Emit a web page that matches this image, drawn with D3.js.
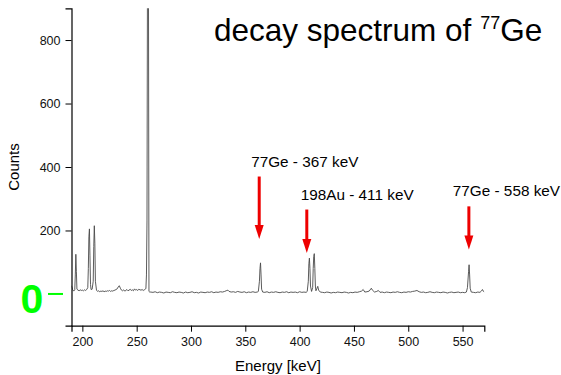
<!DOCTYPE html>
<html>
<head>
<meta charset="utf-8">
<script src="https://cdn.jsdelivr.net/npm/d3@7"></script>
<style>
  body { margin: 0; background: #fff; }
  svg { display: block; font-family: Arial, "Liberation Sans", sans-serif; }
</style>
</head>
<body>
<svg width="561" height="375"></svg>
<script>
// spectrum (energy in keV, counts)
var energies = [190,191,192,193,193.5,194,194.5,195,196,197,198,199,200,
  201,202,203,204,205,205.5,206,206.5,207,207.5,208,209,210,210.5,211,211.5,212,213,214,215,216,217,218,219,220,
  221,222,223,224,225,226,227,228,229,230,231,232,233,234,235,236,237,238,239,240,241,242,243,244,245,246,247,248,249,250,
  251,252,253,254,255,256,257,258,258.5,259,259.5,260,260.8,261.3,262,263,265,267,269,271,273,275,277,279,281,283,285,287,289,
  291,293,295,297,299,301,303,305,307,309,311,313,315,317,319,321,323,325,327,329,331,333,334,335,337,339,341,343,345,347,349,
  351,353,355,357,359,361,362,363,363.5,364,364.5,365,366,368,370,372,374,376,378,380,382,384,386,388,390,392,394,396,398,400,
  402,404,406,407,408,408.5,409,409.5,410,411,412,412.5,413,413.5,414,414.5,415,416,416.7,417.5,419,421,423,425,427,429,431,433,435,437,439,
  441,443,445,447,449,451,453,455,457,458.5,460,462,464,466,467,469,471,472.5,474,476,478,480,482,484,486,488,490,492,494,496,498,500,
  502,504,506,508,510,512,514,516,518,520,522,524,526,528,530,532,534,536,538,540,542,544,546,548,550,552,553.5,554.5,555.5,556,556.5,557,558,
  560,562,564,566,567.5,568.3,569,570];
var counts = [26,14,9,13,60,125,70,15,12,10,13,11,12,
  10,13,11,14,20,80,180,205,120,30,14,15,40,150,215,160,40,12,8,10,7,9,8,10,7,
  9,8,10,9,11,8,10,9,11,12,14,16,22,26,18,12,10,13,9,11,14,10,12,15,11,13,10,16,12,14,
  11,15,13,12,14,11,13,15,18,60,230,1100,1100,8,6,6,5,7,4,6,5,3,6,5,4,7,5,4,6,
  5,3,6,4,5,7,4,5,3,6,5,4,6,5,7,4,6,5,7,6,8,11,12,8,6,7,5,8,6,5,7,
  4,6,5,7,5,6,8,40,80,98,60,15,6,5,7,4,6,5,7,5,4,6,5,7,4,6,5,6,4,7,
  5,6,5,8,40,95,113,80,25,8,20,80,118,127,80,25,10,18,24,12,6,5,4,6,5,3,5,4,6,5,4,
  6,5,3,5,4,6,5,7,9,14,6,7,9,18,12,6,8,11,5,6,4,6,5,4,6,5,7,5,4,6,5,7,
  6,8,9,11,7,5,6,4,5,7,5,4,6,5,4,6,5,3,5,6,4,5,6,4,5,4,6,20,70,92,60,18,6,
  5,4,6,5,10,14,9,6];

var xTicks = [200,250,300,350,400,450,500,550];
var yTicks = [200,400,600,800];

// arrows: energy where it points, counts at tip and tail, label text
var arrowE = [362.8, 406.6, 555.8];
var arrowTip = [173, 129, 140];
var arrowTail = [370, 266, 276];
var arrowText = ["77Ge - 367 keV", "198Au - 411 keV", "77Ge - 558 keV"];
var labelShift = [-8, -6, -16];
var labelRise = [10, 10, 10];

var svg = d3.select("svg");

var x = d3.scaleLinear().domain([190, 570]).range([71.5, 484.3]);
var y = d3.scaleLinear().domain([-100, 900]).range([325.7, 8.3]);

svg.append("defs").append("clipPath").attr("id", "plot")
  .append("rect")
  .attr("x", x(190)).attr("y", y(900))
  .attr("width", x(570) - x(190)).attr("height", y(-100) - y(900));

var data = energies.map(function(e, i) { return [e, counts[i]]; });

var line = d3.line()
  .x(function(d) { return x(d[0]); })
  .y(function(d) { return y(d[1]); });

svg.append("path")
  .datum(data)
  .attr("clip-path", "url(#plot)")
  .attr("d", line)
  .attr("fill", "none")
  .attr("stroke", "#4a4a4a")
  .attr("stroke-width", 0.9);

// x axis
var xAxis = svg.append("g").attr("transform", "translate(0," + y(-100) + ")");
xAxis.call(d3.axisBottom(x).tickValues(d3.range(200, 575, 25)).tickSize(4).tickFormat(""));
xAxis.call(d3.axisBottom(x).tickValues(xTicks).tickSize(6).tickPadding(5))
  .selectAll("text").attr("font-size", 12.5).attr("fill", "#111");
xAxis.selectAll(".domain").attr("stroke", "#000").attr("stroke-width", 1.2);

// y axis
var yAxis = svg.append("g").attr("transform", "translate(" + x(190) + ",0)");
yAxis.call(d3.axisLeft(y).tickValues(d3.range(-100, 901, 100)).tickSize(4).tickFormat(""));
yAxis.call(d3.axisLeft(y).tickValues(yTicks).tickSize(6).tickPadding(5))
  .selectAll("text").attr("font-size", 12.5).attr("fill", "#111");
yAxis.selectAll(".domain").attr("stroke", "#000").attr("stroke-width", 1.2);
svg.selectAll(".tick line").attr("stroke", "#000");

svg.append("text")
  .attr("x", (x(190) + x(570)) / 2).attr("y", 371)
  .attr("text-anchor", "middle").attr("font-size", 15)
  .text("Energy [keV]");

svg.append("text")
  .attr("transform", "translate(19," + (y(-100) + y(900)) / 2 + ") rotate(-90)")
  .attr("text-anchor", "middle").attr("font-size", 15)
  .text("Counts");

// big green zero
svg.append("text")
  .attr("x", 32).attr("y", 312.5)
  .attr("text-anchor", "middle").attr("font-size", 41).attr("font-weight", "bold")
  .attr("fill", "#00ff00")
  .text("0");
svg.append("line")
  .attr("x1", 48).attr("x2", 63).attr("y1", y(0)).attr("y2", y(0))
  .attr("stroke", "#00ff00").attr("stroke-width", 2);

// title
var title = svg.append("text").attr("x", 214).attr("y", 41).attr("font-size", 31.5);
title.append("tspan").text("decay spectrum of ");
title.append("tspan").attr("font-size", 18).attr("dy", -12).text("77");
title.append("tspan").attr("dy", 12).text("Ge");

// arrows
var arr = svg.selectAll(".arrow").data(arrowE).enter().append("g").attr("class", "arrow");
arr.append("line")
  .attr("x1", function(d) { return x(d); })
  .attr("x2", function(d) { return x(d); })
  .attr("y1", function(d, i) { return y(arrowTail[i]); })
  .attr("y2", function(d, i) { return y(arrowTip[i]) - 10; })
  .attr("stroke", "#ee0000").attr("stroke-width", 3);
arr.append("path")
  .attr("d", function(d, i) {
    var cx = x(d), ty = y(arrowTip[i]);
    return "M" + (cx - 4.5) + "," + (ty - 14) + "L" + (cx + 4.5) + "," + (ty - 14) + "L" + cx + "," + ty + "Z";
  })
  .attr("fill", "#ee0000");
arr.append("text")
  .attr("x", function(d, i) { return x(d) + labelShift[i]; })
  .attr("y", function(d, i) { return y(arrowTail[i]) - labelRise[i]; })
  .attr("font-size", 15.3)
  .text(function(d, i) { return arrowText[i]; });
</script>
</body>
</html>
